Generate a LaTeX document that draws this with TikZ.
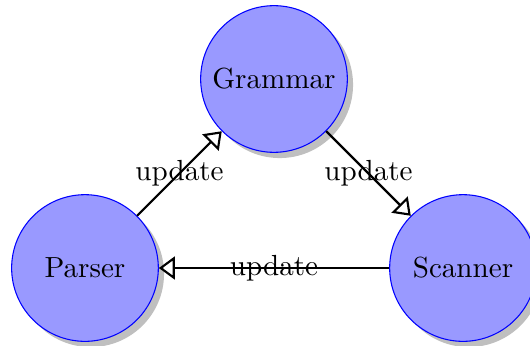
\documentclass[tikz,border=0pt]{standalone}
\usetikzlibrary{shadows,arrows.meta}
\begin{document}
\begin{tikzpicture}[
  every node/.style={font=\fontsize{10.95}{13.6}\selectfont},
  stage/.style={circle, draw=blue, fill=blue!40, minimum size=1.94cm,
                inner sep=0pt, drop shadow},
  flow/.style={draw, thick, -{Triangle[open, length=6pt, width=8.6pt]}},
  tag/.style={midway}
]
\useasboundingbox (-1.124,-1.019) rectangle (5.886,3.545);
\node[stage] (parser)  at (0,0)     {Parser};
\node[stage] (grammar) at (2.5,2.5) {Grammar};
\node[stage] (scanner) at (5,0)     {Scanner};
\draw[flow] (parser)  -- node[tag] {update} (grammar);
\draw[flow] (grammar) -- node[tag] {update} (scanner);
\draw[flow] (scanner) -- node[tag] {update} (parser);
\end{tikzpicture}
\end{document}
